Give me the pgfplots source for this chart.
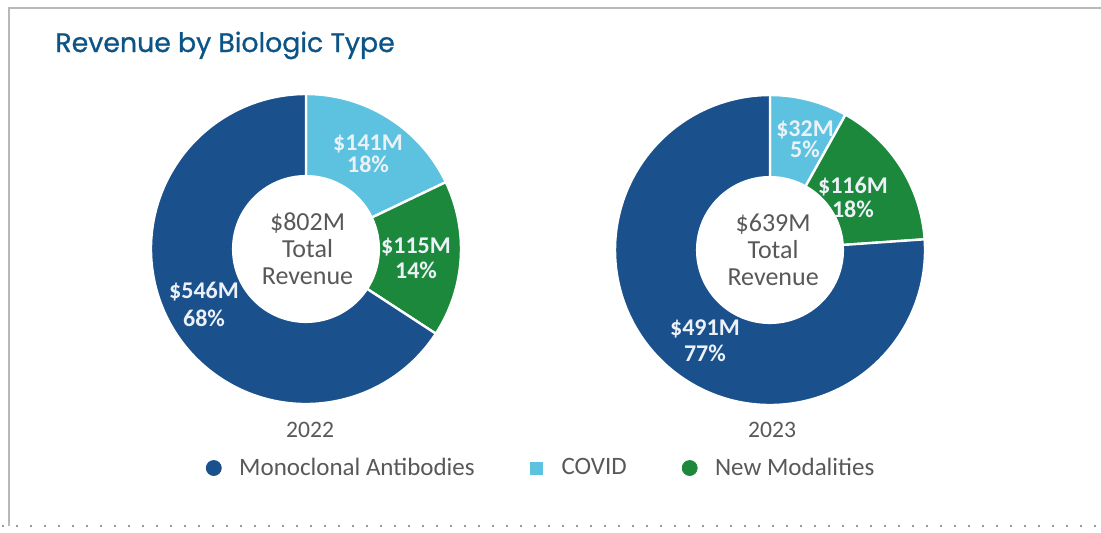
\documentclass[border=0pt]{standalone}
\usepackage{pgfplots}
\pgfplotsset{compat=1.18}
\usepackage{pgfplotstable}
\usepackage{fontspec}
\setmainfont{Carlito}
\newfontfamily\titlefont{Poppins}[FakeBold=0.8]
\definecolor{mab}{RGB}{26,80,140}
\definecolor{covid}{RGB}{92,194,224}
\definecolor{newmod}{RGB}{28,136,60}
\definecolor{titleblue}{RGB}{12,84,134}
\definecolor{txtgray}{RGB}{88,88,88}
\definecolor{slicetxt}{RGB}{236,241,247}

% share of the ring (percent of 360 degrees), clockwise from 12 o'clock
\pgfplotstableread{
series share
COVID 17.9
NewModalities 16.3
Monoclonal 65.8
}\dataA
\pgfplotstableread{
series share
COVID 8.1
NewModalities 15.8
Monoclonal 76.1
}\dataB

\newcommand\rin{0.47}
\newcommand\getangles[1]{%
  \pgfplotstablegetelem{0}{share}\of#1\pgfmathsetmacro\aA{90-3.6*\pgfplotsretval}%
  \pgfplotstablegetelem{1}{share}\of#1\pgfmathsetmacro\aB{\aA-3.6*\pgfplotsretval}%
  \pgfplotstablegetelem{2}{share}\of#1\pgfmathsetmacro\aC{\aB-3.6*\pgfplotsretval}}
\newcommand\slice[3]{\fill[#1,draw=white,line width=1.2pt,line join=round]
  (axis cs:{\rin*cos(#2)},{\rin*sin(#2)}) -- (axis cs:{cos(#2)},{sin(#2)})
  arc[start angle=#2,end angle=#3,radius=77.5pt]
  -- (axis cs:{\rin*cos(#3)},{\rin*sin(#3)})
  arc[start angle=#3,end angle=#2,radius=36.425pt] -- cycle;}
\newcommand\slf[1]{\bfseries\fontsize{12}{#1}\selectfont}

\pgfplotsset{donut/.style={scale only axis, width=155pt, height=155pt,
  xmin=-1,xmax=1,ymin=-1,ymax=1, hide axis, clip=false}}

\begin{document}
\begin{tikzpicture}[x=1pt,y=1pt]
\useasboundingbox (0,0) rectangle (550.5,266);
\draw[black!28, line width=1pt] (4.5,3) -- (4.5,262) -- (550.5,262);
\draw[black!40, line width=1pt, dash pattern=on 0.8pt off 6.2pt] (1,3.2) -- (550.5,3.2);
\node[anchor=base west, inner sep=0pt, text=titleblue, font=\titlefont\fontsize{13.4}{15}\selectfont] at (27.5,240) {Revenue by Biologic Type};

\getangles{\dataA}
\begin{axis}[donut, at={(153pt,141.5pt)}, anchor=center,
  legend columns=3,
  legend style={at={(axis description cs:0.1758,-0.2065)}, anchor=west, draw=none, fill=none,
    inner sep=0pt, font=\fontsize{12.5}{14}\selectfont, text=txtgray,
    nodes={inner sep=0pt},
    /tikz/every even column/.append style={column sep=27.5pt}},
  legend cell align=left]
\slice{covid}{90}{\aA}
\slice{newmod}{\aA}{\aB}
\slice{mab}{\aB}{\aC}
\addlegendimage{legend image code/.code={\fill[mab] (3.75pt,0pt) circle[radius=3.75pt]; \path (16.25pt,0pt);}}
\addlegendentry{Monoclonal Antibodies}
\addlegendimage{legend image code/.code={\fill[covid] (0.75pt,-3pt) rectangle (6.75pt,3pt); \path (16.25pt,0pt);}}
\addlegendentry{COVID}
\addlegendimage{legend image code/.code={\fill[newmod] (3.75pt,0pt) circle[radius=3.75pt]; \path (16.25pt,0pt);}}
\addlegendentry{New Modalities}
\node[align=center, text=slicetxt, font={\slf{11}}] at (axis cs:0.40,0.613) {\$141M\\18\%};
\node[align=center, text=slicetxt, font={\slf{12.5}}] at (axis cs:0.71,-0.061) {\$115M\\14\%};
\node[align=center, text=slicetxt, font={\slf{14}}] at (axis cs:-0.658,-0.355) {\$546M\\68\%};
\node[align=center, text=txtgray, font=\fontsize{13}{13.5}\selectfont] at (axis cs:0.01,0) {\$802M\\Total\\Revenue};
\node[text=txtgray, font=\fontsize{11.8}{14}\selectfont] at (axis cs:0.026,-1.168) {2022};
\end{axis}

\getangles{\dataB}
\begin{axis}[donut, at={(385pt,141pt)}, anchor=center]
\slice{covid}{90}{\aA}
\slice{newmod}{\aA}{\aB}
\slice{mab}{\aB}{\aC}
\node[align=center, text=slicetxt, font={\slf{10.5}}] at (axis cs:0.226,0.713) {\$32M\\5\%};
\node[align=center, text=slicetxt, font={\slf{12}}] at (axis cs:0.535,0.342) {\$116M\\18\%};
\node[align=center, text=slicetxt, font={\slf{13}}] at (axis cs:-0.42,-0.587) {\$491M\\77\%};
\node[align=center, text=txtgray, font=\fontsize{13}{13.5}\selectfont] at (axis cs:0.02,0) {\$639M\\Total\\Revenue};
\node[text=txtgray, font=\fontsize{11.8}{14}\selectfont] at (axis cs:0.013,-1.16) {2023};
\end{axis}
\end{tikzpicture}
\end{document}
